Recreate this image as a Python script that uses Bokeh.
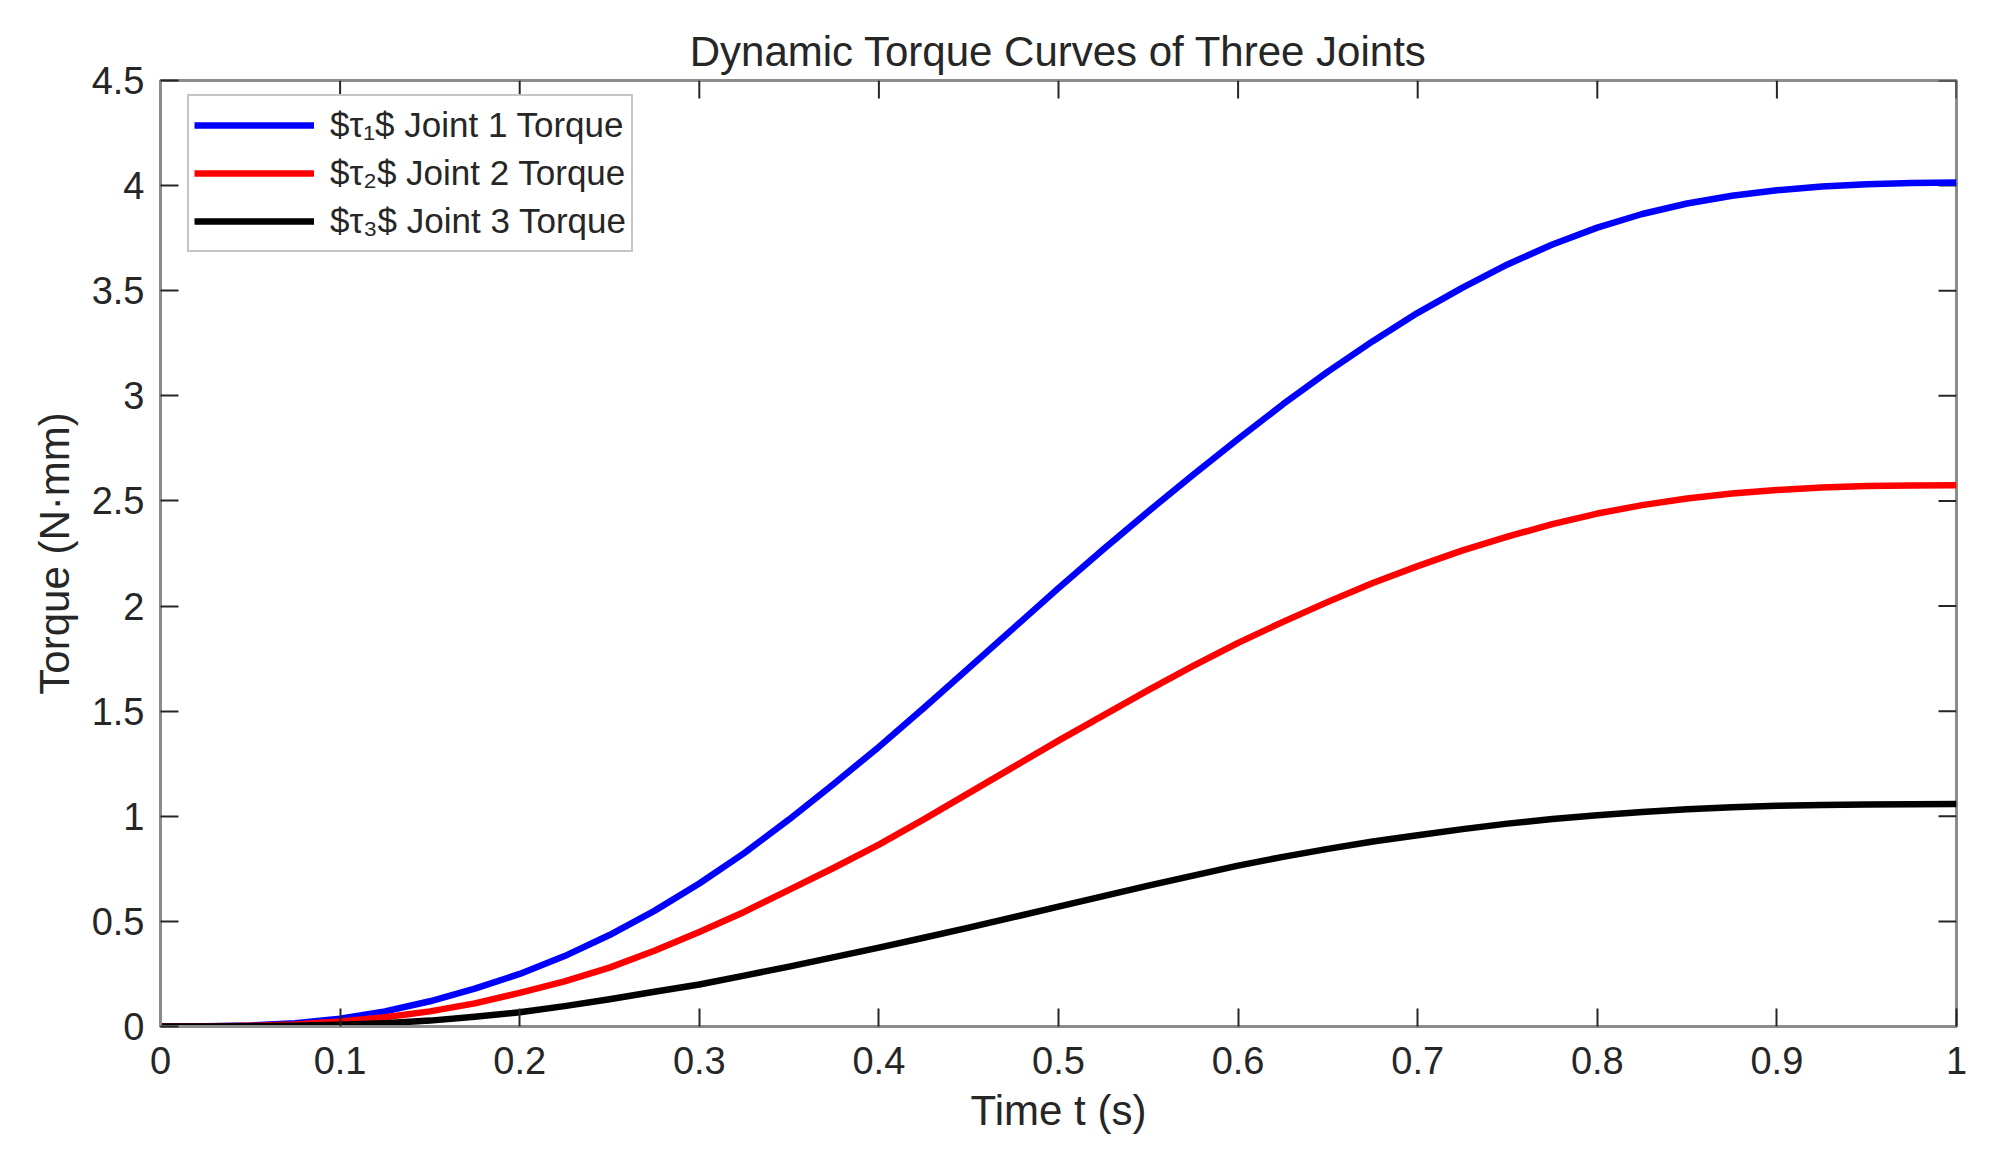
import math
from bokeh.plotting import figure
from bokeh.models import Range1d, FixedTicker, CustomJSTickFormatter
from bokeh.embed import file_html
from bokeh.resources import INLINE

# ---- data ----
time_s = [0, 0.025, 0.05, 0.075, 0.1, 0.125, 0.15, 0.175, 0.2, 0.225, 0.25,
          0.275, 0.3, 0.325, 0.35, 0.375, 0.4, 0.425, 0.45, 0.475, 0.5,
          0.525, 0.55, 0.575, 0.6, 0.625, 0.65, 0.675, 0.7, 0.725, 0.75,
          0.775, 0.8, 0.825, 0.85, 0.875, 0.9, 0.925, 0.95, 0.975, 1.0]
tau1 = [0, 0.001, 0.005, 0.016, 0.037, 0.072, 0.12, 0.18, 0.25, 0.335, 0.435,
        0.55, 0.68, 0.825, 0.985, 1.155, 1.33, 1.515, 1.705, 1.895, 2.085,
        2.27, 2.45, 2.625, 2.795, 2.96, 3.115, 3.26, 3.395, 3.515, 3.625,
        3.72, 3.80, 3.865, 3.915, 3.952, 3.978, 3.996, 4.007, 4.013, 4.015]
tau2 = [0, 0.0005, 0.003, 0.01, 0.024, 0.044, 0.072, 0.11, 0.16, 0.215, 0.28,
        0.36, 0.45, 0.545, 0.65, 0.755, 0.865, 0.985, 1.11, 1.235, 1.36,
        1.48, 1.60, 1.715, 1.825, 1.925, 2.02, 2.11, 2.19, 2.265, 2.33,
        2.39, 2.44, 2.48, 2.512, 2.535, 2.552, 2.564, 2.571, 2.574, 2.575]
tau3 = [0, 0.0002, 0.001, 0.003, 0.008, 0.016, 0.028, 0.046, 0.068, 0.097, 0.13,
        0.165, 0.2, 0.242, 0.285, 0.33, 0.375, 0.422, 0.47, 0.52, 0.57,
        0.62, 0.67, 0.718, 0.765, 0.807, 0.845, 0.88, 0.91, 0.939, 0.965,
        0.987, 1.005, 1.02, 1.033, 1.043, 1.05, 1.054, 1.056, 1.057, 1.058]
series_labels = ["$τ₁$ Joint 1 Torque", "$τ₂$ Joint 2 Torque", "$τ₃$ Joint 3 Torque"]
series_colors = ["#0000FF", "#FF0000", "#000000"]
x_ticks = [0, 0.1, 0.2, 0.3, 0.4, 0.5, 0.6, 0.7, 0.8, 0.9, 1]
y_ticks = [0, 0.5, 1, 1.5, 2, 2.5, 3, 3.5, 4, 4.5]
x_min, x_max = 0, 1
y_min, y_max = 0, 4.5
title_text = "Dynamic Torque Curves of Three Joints"
x_label = "Time t (s)"
y_label = "Torque (N·mm)"

FONT = "Liberation Sans"
TXT = "#262626"
AXC = "#8c8c8c"
TICK_LEN = 18

p = figure(width=1990, height=1140, output_backend="svg", toolbar_location=None,
           x_range=Range1d(x_min, x_max), y_range=Range1d(y_min, y_max),
           min_border_left=160, min_border_right=34,
           min_border_top=80, min_border_bottom=114,
           background_fill_color="white", border_fill_color="white")

p.title.text = title_text
p.title.align = "center"
p.title.text_font = FONT
p.title.text_font_size = "42px"
p.title.text_font_style = "normal"
p.title.text_color = TXT
p.title.standoff = 12

p.xgrid.visible = False
p.ygrid.visible = False
p.outline_line_color = AXC
p.outline_line_width = 3

fmt = CustomJSTickFormatter(code="return String(Math.round(tick*10)/10);")

def style_axis(ax):
    ax.axis_line_color = AXC
    ax.axis_line_width = 3
    ax.major_tick_line_color = TXT
    ax.major_tick_line_width = 2
    ax.major_tick_in = TICK_LEN
    ax.major_tick_out = 0
    ax.minor_tick_line_color = None
    ax.formatter = fmt
    ax.major_label_text_font = FONT
    ax.major_label_text_font_size = "38px"
    ax.major_label_text_color = TXT
    ax.axis_label_text_font = FONT
    ax.axis_label_text_font_size = "42px"
    ax.axis_label_text_font_style = "normal"
    ax.axis_label_text_color = TXT

xa = p.xaxis[0]
ya = p.yaxis[0]
xa.ticker = FixedTicker(ticks=x_ticks)
ya.ticker = FixedTicker(ticks=y_ticks)
style_axis(xa)
style_axis(ya)
xa.axis_label = x_label
ya.axis_label = y_label
xa.major_label_standoff = 20
xa.axis_label_standoff = 10
ya.major_label_standoff = 16
ya.axis_label_standoff = 11

# inward ticks on the top and right edges of the box (MATLAB "box on")
p.ray(x=x_ticks, y=[y_max] * len(x_ticks), length=TICK_LEN, length_units="screen",
      angle=-math.pi / 2, line_color=TXT, line_width=2)
p.ray(x=[x_max] * len(y_ticks), y=y_ticks, length=TICK_LEN, length_units="screen",
      angle=math.pi, line_color=TXT, line_width=2)

for ys, lab, col in zip([tau1, tau2, tau3], series_labels, series_colors):
    p.line(time_s, ys, line_color=col, line_width=6.5, legend_label=lab,
           line_join="round", line_cap="butt")

lg = p.legend[0]
lg.location = (27, 774)
lg.border_line_color = AXC
lg.border_line_width = 2.5
lg.background_fill_color = "white"
lg.background_fill_alpha = 1.0
lg.label_text_font = FONT
lg.label_text_font_size = "35px"
lg.label_text_color = TXT
lg.glyph_width = 120
lg.glyph_height = 48
lg.label_height = 48
lg.spacing = 0
lg.padding = 5
lg.margin = 0
lg.label_standoff = 16

open("out.html", "w").write(file_html(p, INLINE))
